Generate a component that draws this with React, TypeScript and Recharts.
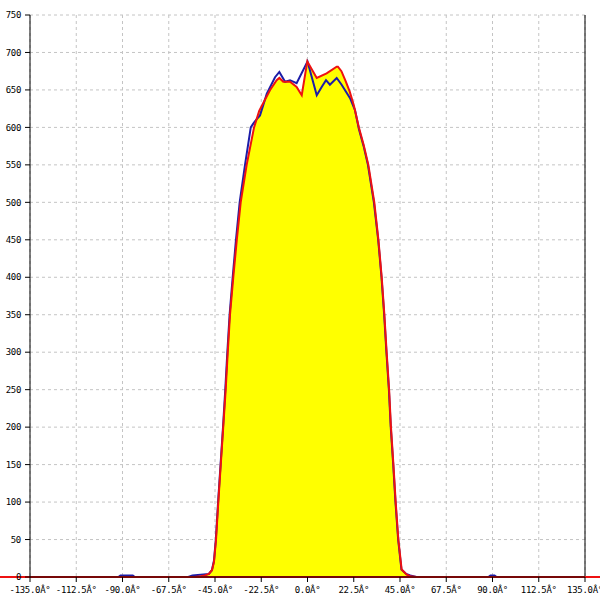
import React from 'react';
import { ComposedChart, Line, Area, XAxis, YAxis, CartesianGrid, ReferenceLine } from 'recharts';

const xTicks = [-135, -112.5, -90, -67.5, -45, -22.5, 0, 22.5, 45, 67.5, 90, 112.5, 135];
const xTickLabels = ['-135.0Â°', '-112.5Â°', '-90.0Â°', '-67.5Â°', '-45.0Â°', '-22.5Â°', '0.0Â°', '22.5Â°', '45.0Â°', '67.5Â°', '90.0Â°', '112.5Â°', '135.0Â°'];
const yTicks = [0, 50, 100, 150, 200, 250, 300, 350, 400, 450, 500, 550, 600, 650, 700, 750];

const redAngles = [-135, -60, -55, -52, -50, -48, -46.5, -45.5, -44.5, -43.4, -42.2, -41.0, -39.8, -38.8, -37.7, -36.1, -34.4, -32.5, -29.6, -26.0, -23.5, -20.7, -18.2, -15.0, -13.7, -11.8, -8.5, -5.3, -2.8, -0.1, 4.5, 9.3, 14.2, 14.8, 16.5, 18.5, 20.5, 22.5, 25.0, 27.3, 29.6, 32.5, 34.5, 36.1, 37.4, 38.5, 39.7, 40.6, 41.8, 42.9, 44.2, 45.8, 48.3, 50, 53, 135];
const redValues = [0, 0, 0, 1, 2, 4, 9, 20, 50, 100, 150, 200, 250, 300, 350, 400, 450, 500, 550, 600, 622, 637, 650, 663, 666, 661, 661, 654, 643, 688, 666, 672, 681, 681, 675, 662, 648, 630, 600, 577, 550, 500, 450, 400, 350, 300, 250, 200, 150, 100, 50, 10, 3, 1, 0, 0];
// red baseline continues past both axis ends
const redBaselineEnds = [-150, 150];

const blueAngles = [-135, -92, -91, -85, -84, -58, -56, -52, -48, -46.5, -45.5, -44.6, -43.5, -42.3, -41.1, -40.0, -39.0, -37.9, -36.4, -34.8, -33.0, -30.4, -27.6, -26.4, -25.0, -23.1, -19.8, -15.8, -13.7, -10.9, -8.5, -5.3, 0, 4.5, 6.9, 9.0, 10.9, 14.2, 16.6, 20.7, 23.1, 25.0, 27.3, 29.4, 32.3, 34.4, 36.0, 37.3, 38.4, 39.6, 40.5, 41.7, 42.8, 44.1, 45.7, 48, 50, 53, 88, 89, 91, 92, 135];
const blueValues = [0, 0, 2, 2, 0, 0, 2, 3, 4, 9, 22, 50, 100, 150, 200, 250, 300, 350, 400, 450, 500, 550, 600, 605, 610, 616, 645, 667, 674, 661, 663, 659, 688, 643, 654, 663, 657, 666, 657, 639, 623, 598, 575, 550, 500, 450, 400, 350, 300, 250, 200, 150, 100, 50, 10, 4, 2, 0, 0, 2, 2, 0, 0];

const redData = redAngles.map((a, i) => ({ angle: a, value: redValues[i] }));
const blueData = blueAngles.map((a, i) => ({ angle: a, value: blueValues[i] }));

const tickStyle = { fontFamily: '"DejaVu Sans Mono", monospace', fontSize: 9, fill: '#000', letterSpacing: -0.3 };

export default function App() {
  return (
    <div style={{ position: 'absolute', left: 0, top: 0, width: 600, height: 600, background: '#fff' }}>
      <ComposedChart width={600} height={600} margin={{ top: 15, right: 15, bottom: 0, left: 0 }}>
        <CartesianGrid stroke="#c4c4c4" strokeDasharray="3 3" />
        <XAxis
          type="number"
          dataKey="angle"
          domain={[-135, 135]}
          ticks={xTicks}
          interval={0}
          tickFormatter={(v: number) => xTickLabels[xTicks.indexOf(v)] ?? String(v)}
          tick={tickStyle}
          tickSize={5}
          tickMargin={5}
          height={23}
          stroke="#000"
          tickLine={{ stroke: '#000' }}
          axisLine={{ stroke: '#000' }}
        />
        <YAxis
          type="number"
          domain={[0, 750]}
          ticks={yTicks}
          interval={0}
          tick={tickStyle}
          tickSize={5}
          tickMargin={4}
          width={30}
          stroke="#000"
          tickLine={{ stroke: '#000' }}
          axisLine={{ stroke: '#000' }}
        />
        <ReferenceLine x={135} stroke="#000" strokeWidth={1} />
        <ReferenceLine
          segment={[{ x: redBaselineEnds[0], y: 0 }, { x: redBaselineEnds[1], y: 0 }]}
          ifOverflow="visible"
          stroke="#ee1111"
          strokeWidth={2}
        />
        <Area data={redData} dataKey="value" type="linear" fill="#ffff00" fillOpacity={1} stroke="none" isAnimationActive={false} />
        <Line data={blueData} dataKey="value" type="linear" stroke="#1c1ca8" strokeWidth={2} dot={false} isAnimationActive={false} />
        <Line data={redData} dataKey="value" type="linear" stroke="#ee1111" strokeWidth={2} dot={false} isAnimationActive={false} />
      </ComposedChart>
    </div>
  );
}
